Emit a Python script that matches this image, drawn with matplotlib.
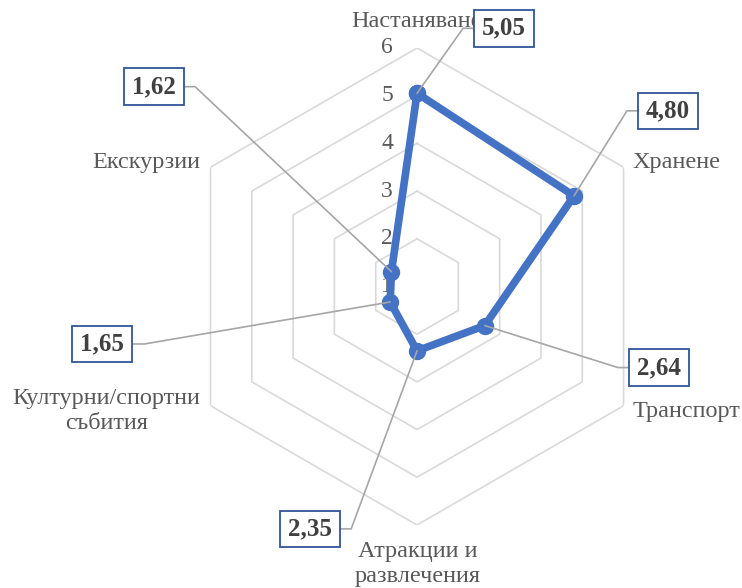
import math

import matplotlib
matplotlib.use("Agg")
import matplotlib.pyplot as plt
import numpy as np
from matplotlib.path import Path

plt.rcParams["font.family"] = ["Liberation Serif", "DejaVu Serif"]

categories = ["Настаняване", "Хранене", "Транспорт", "Атракции и\nразвлечения",
              "Културни/спортни\nсъбития", "Екскурзии"]
values = [5.05, 4.80, 2.64, 2.35, 1.65, 1.62]
value_labels = ["5,05", "4,80", "2,64", "2,35", "1,65", "1,62"]
rings = [2, 3, 4, 5, 6]
tick_values = [1, 2, 3, 4, 5, 6]

# label placement (pixels, y up): category label offset from outer vertex,
# value box offset from its data point
cat_offsets = [(-1, 26), (9, 5), (9, -6), (1, -39), (-10, -5), (-10, 5)]
cat_ha = ["center", "left", "left", "center", "right", "right"]
box_offsets = [(87, 65), (94, 85), (174, -42), (-107, -178), (-288, -42), (-237, 185)]

LINE = "#4472C4"
GRID = "#D9D9D9"
TEXT = "#595959"


def label_box(x0, y0, width, height, mutation_size):
    # wider horizontal padding than vertical, like the Excel data-label box
    px, py = 0.32 * mutation_size, 0.27 * mutation_size
    x1, y1 = x0 + width + px, y0 + height + py
    x0, y0 = x0 - px, y0 - py
    return Path([(x0, y0), (x1, y0), (x1, y1), (x0, y1), (x0, y0)],
                [Path.MOVETO, Path.LINETO, Path.LINETO, Path.LINETO, Path.CLOSEPOLY])


fig = plt.figure(figsize=(7.42, 5.88), dpi=100)
ax = fig.add_axes([0.2406, 0.1072, 0.6429, 0.8112], projection="polar")
ax.set_theta_offset(np.pi / 2)
ax.set_theta_direction(-1)
ax.set_ylim(1, 6)
ax.grid(False)
ax.spines["polar"].set_visible(False)
ax.set_xticks([])
ax.set_yticks([])
ax.patch.set_alpha(0)

theta = np.arange(len(categories)) * 2 * np.pi / len(categories)
closed = np.append(theta, theta[0])

for r in rings:
    ax.plot(closed, [r] * len(closed), color=GRID, lw=1.2, zorder=1)

for v in tick_values:
    ax.annotate(str(v), xy=(0, v), xytext=(-30, 0), textcoords="offset pixels",
                ha="center", va="center", fontsize=17, color=TEXT, zorder=1)

ax.plot(closed, np.append(values, values[0]), color=LINE, lw=5.5, marker="o",
        ms=11.5, zorder=2, solid_joinstyle="round")

for t, lab, (dx, dy), ha in zip(theta, categories, cat_offsets, cat_ha):
    ax.annotate(lab, xy=(t, 6), xytext=(dx, dy), textcoords="offset pixels",
                ha=ha, va="center", multialignment="center", fontsize=17.5,
                color=TEXT, linespacing=1.25)

for t, v, lab, (dx, dy) in zip(theta, values, value_labels, box_offsets):
    elbow = dx - math.copysign(41, dx)
    angle_b = math.degrees(math.atan2(dy, elbow))
    ax.annotate(lab, xy=(t, v), xytext=(dx, dy), textcoords="offset pixels",
                ha="center", va="center", fontsize=18, fontweight="bold",
                color="#404040", zorder=4,
                bbox=dict(boxstyle=label_box, fc="white", ec="#2F5597", lw=1.3),
                arrowprops=dict(arrowstyle="-", color="#A6A6A6", lw=1.2,
                                shrinkA=0, shrinkB=0,
                                connectionstyle=f"angle,angleA=0,angleB={angle_b:.1f},rad=0"))

fig.savefig("out.png", dpi=100)
